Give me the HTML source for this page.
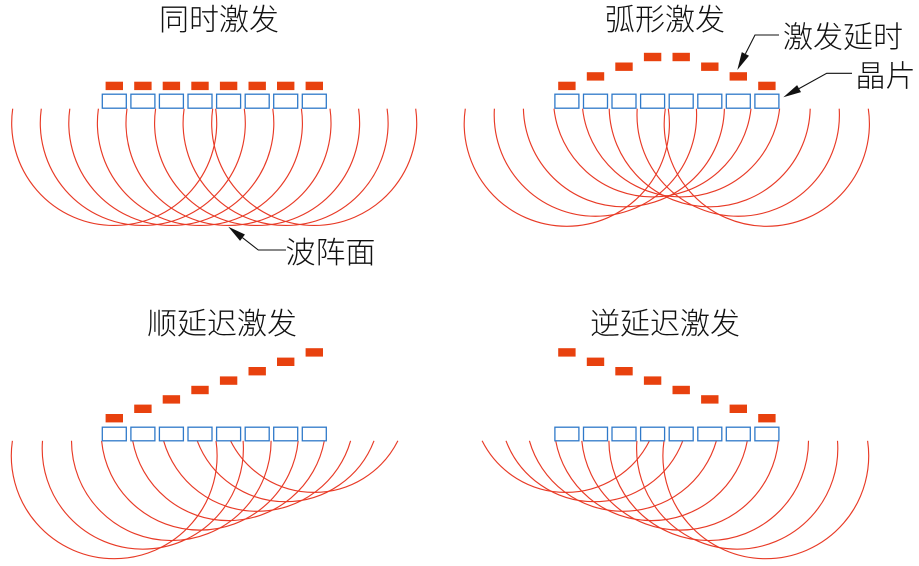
<!DOCTYPE html>
<html>
<head>
<meta charset="utf-8">
<style>
html,body{margin:0;padding:0;background:#fff;}
svg{display:block;}
text{font-family:"Liberation Sans","Noto Sans CJK SC",sans-serif;font-size:30px;fill:#111;font-weight:300;}
</style>
</head>
<body>
<svg width="919" height="566" viewBox="0 0 919 566" xmlns="http://www.w3.org/2000/svg">
<rect width="919" height="566" fill="#fff"/>

<!-- Titles -->
<text x="219" y="30" text-anchor="middle">同时激发</text>
<text x="665" y="30" text-anchor="middle">弧形激发</text>
<text x="222" y="334" text-anchor="middle">顺延迟激发</text>
<text x="665" y="334" text-anchor="middle">逆延迟激发</text>

<!-- Labels -->
<text x="783" y="47.5">激发延时</text>
<text x="855.5" y="86.5">晶片</text>
<text x="285.5" y="263">波阵面</text>

<!-- Leader lines -->
<g stroke="#111" stroke-width="1.1" fill="none">
  <polyline points="779,35 755,35 745.4,53.9"/>
  <polyline points="852,73.3 826.7,73.3 799,88.6"/>
  <polyline points="286,250 258.3,250 242.5,237.7"/>
</g>
<g fill="#111">
  <polygon points="737.3,70 749,55.7 741.8,52.1"/>
  <polygon points="783.3,97.3 801,92.1 797.1,85.1"/>
  <polygon points="228.3,226.7 240.05,240.9 244.95,234.5"/>
</g>

<!-- Arcs -->
<g stroke="#e83a26" stroke-width="1.15" fill="none">
  <!-- top-left -->
  <path d="M12.7 108.7 A102.5 102.5 0 1 0 215.7 108.7"/>
  <path d="M41.3 108.7 A102.5 102.5 0 1 0 244.3 108.7"/>
  <path d="M69.8 108.7 A102.5 102.5 0 1 0 272.8 108.7"/>
  <path d="M98.4 108.7 A102.5 102.5 0 1 0 301.4 108.7"/>
  <path d="M127 108.7 A102.5 102.5 0 1 0 330 108.7"/>
  <path d="M155.6 108.7 A102.5 102.5 0 1 0 358.6 108.7"/>
  <path d="M184.1 108.7 A102.5 102.5 0 1 0 387.1 108.7"/>
  <path d="M212.7 108.7 A102.5 102.5 0 1 0 415.7 108.7"/>
  <!-- top-right -->
  <path d="M465.3 108.7 A102.6 102.6 0 1 0 668.3 108.7"/>
  <path d="M494.4 108.7 A101.2 101.2 0 1 0 696.4 108.7"/>
  <path d="M523.4 108.7 A100.53 100.53 0 0 0 724.4 108.7"/>
  <path d="M554 108.7 A99.1 99.1 0 0 0 751 108.7"/>
  <path d="M582.6 108.7 A99.1 99.1 0 0 0 779.6 108.7"/>
  <path d="M609.2 108.7 A100.53 100.53 0 0 0 810.2 108.7"/>
  <path d="M637.2 108.7 A101.2 101.2 0 1 0 839.2 108.7"/>
  <path d="M665.3 108.7 A102.6 102.6 0 1 0 868.3 108.7"/>
  <!-- bottom-left -->
  <path d="M12.4 440.8 A102.9 102.9 0 1 0 216.0 440.8"/>
  <path d="M42.5 440.8 A100.6 100.6 0 1 0 243.1 440.8"/>
  <path d="M71.5 440.8 A99.8 99.8 0 0 0 271.1 440.8"/>
  <path d="M101.6 440.8 A98.75 98.75 0 0 0 298.2 440.8"/>
  <path d="M132.7 440.8 A97.4 97.4 0 0 0 324.3 440.8"/>
  <path d="M163.6 440.8 A97.25 97.25 0 0 0 350.6 440.8"/>
  <path d="M197.2 440.8 A94.6 94.6 0 0 0 374.0 440.8"/>
  <path d="M230.5 440.8 A93.7 93.7 0 0 0 397.9 440.8"/>
  <!-- bottom-right -->
  <path d="M482.1 440.8 A93.7 93.7 0 0 0 649.5 440.8"/>
  <path d="M506.0 440.8 A94.6 94.6 0 0 0 682.8 440.8"/>
  <path d="M529.4 440.8 A97.25 97.25 0 0 0 716.4 440.8"/>
  <path d="M555.7 440.8 A97.4 97.4 0 0 0 747.3 440.8"/>
  <path d="M581.8 440.8 A98.75 98.75 0 0 0 778.4 440.8"/>
  <path d="M608.9 440.8 A99.8 99.8 0 0 0 808.5 440.8"/>
  <path d="M636.9 440.8 A100.6 100.6 0 1 0 837.5 440.8"/>
  <path d="M664.0 440.8 A102.9 102.9 0 1 0 867.6 440.8"/>
</g>

<!-- Element boxes -->
<g stroke="#2f79c9" stroke-width="1.3" fill="#fff">
  <!-- top-left -->
  <rect x="102.3" y="94.2" width="24" height="14"/>
  <rect x="130.9" y="94.2" width="24" height="14"/>
  <rect x="159.4" y="94.2" width="24" height="14"/>
  <rect x="188.0" y="94.2" width="24" height="14"/>
  <rect x="216.6" y="94.2" width="24" height="14"/>
  <rect x="245.2" y="94.2" width="24" height="14"/>
  <rect x="273.7" y="94.2" width="24" height="14"/>
  <rect x="302.3" y="94.2" width="24" height="14"/>
  <!-- top-right -->
  <rect x="554.9" y="94.2" width="24" height="14"/>
  <rect x="583.5" y="94.2" width="24" height="14"/>
  <rect x="612.0" y="94.2" width="24" height="14"/>
  <rect x="640.6" y="94.2" width="24" height="14"/>
  <rect x="669.2" y="94.2" width="24" height="14"/>
  <rect x="697.8" y="94.2" width="24" height="14"/>
  <rect x="726.3" y="94.2" width="24" height="14"/>
  <rect x="754.9" y="94.2" width="24" height="14"/>
  <!-- bottom-left -->
  <rect x="102.3" y="427.2" width="24" height="13.6"/>
  <rect x="130.9" y="427.2" width="24" height="13.6"/>
  <rect x="159.4" y="427.2" width="24" height="13.6"/>
  <rect x="188.0" y="427.2" width="24" height="13.6"/>
  <rect x="216.6" y="427.2" width="24" height="13.6"/>
  <rect x="245.2" y="427.2" width="24" height="13.6"/>
  <rect x="273.7" y="427.2" width="24" height="13.6"/>
  <rect x="302.3" y="427.2" width="24" height="13.6"/>
  <!-- bottom-right -->
  <rect x="554.9" y="427.2" width="24" height="13.6"/>
  <rect x="583.5" y="427.2" width="24" height="13.6"/>
  <rect x="612.0" y="427.2" width="24" height="13.6"/>
  <rect x="640.6" y="427.2" width="24" height="13.6"/>
  <rect x="669.2" y="427.2" width="24" height="13.6"/>
  <rect x="697.8" y="427.2" width="24" height="13.6"/>
  <rect x="726.3" y="427.2" width="24" height="13.6"/>
  <rect x="754.9" y="427.2" width="24" height="13.6"/>
</g>

<!-- Delay bars -->
<g fill="#e8410e">
  <!-- top-left -->
  <rect x="105.6" y="81.7" width="17.4" height="8.4"/>
  <rect x="134.2" y="81.7" width="17.4" height="8.4"/>
  <rect x="162.7" y="81.7" width="17.4" height="8.4"/>
  <rect x="191.3" y="81.7" width="17.4" height="8.4"/>
  <rect x="219.9" y="81.7" width="17.4" height="8.4"/>
  <rect x="248.5" y="81.7" width="17.4" height="8.4"/>
  <rect x="277.0" y="81.7" width="17.4" height="8.4"/>
  <rect x="305.6" y="81.7" width="17.4" height="8.4"/>
  <!-- top-right -->
  <rect x="558.2" y="81.7" width="17.4" height="8.4"/>
  <rect x="586.8" y="72.2" width="17.4" height="8.4"/>
  <rect x="615.3" y="62.5" width="17.4" height="8.4"/>
  <rect x="643.9" y="52.8" width="17.4" height="8.4"/>
  <rect x="672.5" y="52.8" width="17.4" height="8.4"/>
  <rect x="701.1" y="62.5" width="17.4" height="8.4"/>
  <rect x="729.6" y="72.2" width="17.4" height="8.4"/>
  <rect x="758.2" y="81.7" width="17.4" height="8.4"/>
  <!-- bottom-left -->
  <rect x="105.6" y="414.0" width="17.4" height="8.4"/>
  <rect x="134.2" y="404.6" width="17.4" height="8.4"/>
  <rect x="162.7" y="395.2" width="17.4" height="8.4"/>
  <rect x="191.3" y="385.8" width="17.4" height="8.4"/>
  <rect x="219.9" y="376.4" width="17.4" height="8.4"/>
  <rect x="248.5" y="367.0" width="17.4" height="8.4"/>
  <rect x="277.0" y="357.6" width="17.4" height="8.4"/>
  <rect x="305.6" y="348.2" width="17.4" height="8.4"/>
  <!-- bottom-right -->
  <rect x="558.2" y="348.2" width="17.4" height="8.4"/>
  <rect x="586.8" y="357.6" width="17.4" height="8.4"/>
  <rect x="615.3" y="367.0" width="17.4" height="8.4"/>
  <rect x="643.9" y="376.4" width="17.4" height="8.4"/>
  <rect x="672.5" y="385.8" width="17.4" height="8.4"/>
  <rect x="701.1" y="395.2" width="17.4" height="8.4"/>
  <rect x="729.6" y="404.6" width="17.4" height="8.4"/>
  <rect x="758.2" y="414.0" width="17.4" height="8.4"/>
</g>
</svg>
</body>
</html>
